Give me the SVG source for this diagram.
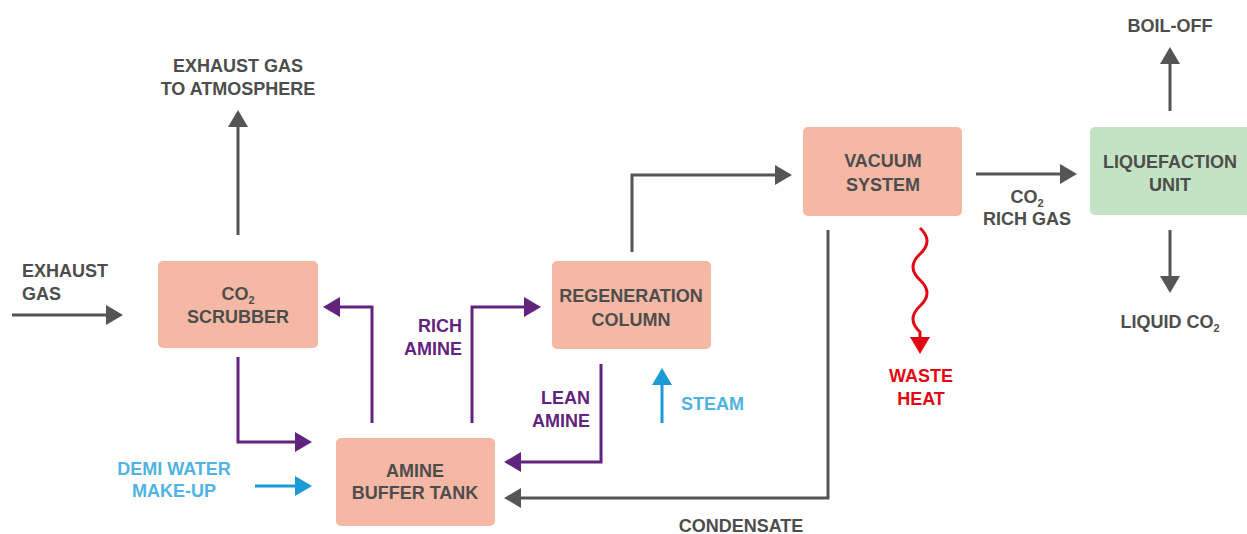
<svg xmlns="http://www.w3.org/2000/svg" width="1247" height="534" viewBox="0 0 1247 534">
<style>
text{font-family:"Liberation Sans",Arial,sans-serif;font-weight:700;font-size:18px;}
.g{fill:#4d4d4d}
.p{fill:#62237f}
.b{fill:#4fb4e4}
.r{fill:#e30613}
.m{text-anchor:middle}
.e{text-anchor:end}
.box{fill:#f5b8a4}
.green{fill:#c4e3c4}
.cg{fill:none;stroke:#555555;stroke-width:3}
.cp{fill:none;stroke:#62237f;stroke-width:3}
.cb{fill:none;stroke:#1b9ad6;stroke-width:3}
.cr{fill:none;stroke:#e30613;stroke-width:3}
.sub{font-size:11px}
</style>
<defs>
<marker id="ag" viewBox="0 0 17 20" refX="0" refY="10" markerWidth="17" markerHeight="20" markerUnits="userSpaceOnUse" orient="auto"><path d="M0,0 L17,10 L0,20 z" fill="#555555"/></marker>
<marker id="ap" viewBox="0 0 17 20" refX="0" refY="10" markerWidth="17" markerHeight="20" markerUnits="userSpaceOnUse" orient="auto"><path d="M0,0 L17,10 L0,20 z" fill="#62237f"/></marker>
<marker id="ab" viewBox="0 0 17 20" refX="0" refY="10" markerWidth="17" markerHeight="20" markerUnits="userSpaceOnUse" orient="auto"><path d="M0,0 L17,10 L0,20 z" fill="#1b9ad6"/></marker>
<marker id="ar" viewBox="0 0 17 20" refX="0" refY="10" markerWidth="17" markerHeight="20" markerUnits="userSpaceOnUse" orient="auto"><path d="M0,0 L17,10 L0,20 z" fill="#e30613"/></marker>
</defs>
<rect width="1247" height="534" fill="#ffffff"/>

<g id="connectors">
<path class="cg" d="M12,315 H106" marker-end="url(#ag)"/>
<path class="cg" d="M238,235 V127" marker-end="url(#ag)"/>
<path class="cg" d="M632,252 V175 H775" marker-end="url(#ag)"/>
<path class="cg" d="M976,174 H1060" marker-end="url(#ag)"/>
<path class="cg" d="M1170,111 V64" marker-end="url(#ag)"/>
<path class="cg" d="M1170,230 V276" marker-end="url(#ag)"/>
<path class="cg" d="M828,230 V498 H521" marker-end="url(#ag)"/>
<path class="cp" d="M238,357 V442 H295" marker-end="url(#ap)"/>
<path class="cp" d="M372,423 V307 H340" marker-end="url(#ap)"/>
<path class="cp" d="M472,423 V307 H524" marker-end="url(#ap)"/>
<path class="cp" d="M601,364 V462 H521" marker-end="url(#ap)"/>
<path class="cb" d="M662,423 V385" marker-end="url(#ab)"/>
<path class="cb" d="M255,486 H295" marker-end="url(#ab)"/>
<path class="cr" d="M920,228 Q934,241 920,254 T920,280 T920,306 T920,332 L920,337" marker-end="url(#ar)"/>
</g>

<g id="scrubber">
<rect class="box" x="158" y="261" width="160" height="87" rx="5"/>
<text class="g m" x="238" y="300">CO<tspan class="sub" dy="4">2</tspan></text>
<text class="g m" x="238" y="323">SCRUBBER</text>
</g>
<g id="buffer-tank">
<rect class="box" x="336" y="438" width="159" height="88" rx="5"/>
<text class="g m" x="415" y="477">AMINE</text>
<text class="g m" x="415" y="499">BUFFER TANK</text>
</g>
<g id="regeneration">
<rect class="box" x="552" y="261" width="159" height="88" rx="5"/>
<text class="g m" x="631" y="302">REGENERATION</text>
<text class="g m" x="631" y="326">COLUMN</text>
</g>
<g id="vacuum">
<rect class="box" x="803" y="127" width="159" height="89" rx="5"/>
<text class="g m" x="883" y="167">VACUUM</text>
<text class="g m" x="883" y="191">SYSTEM</text>
</g>
<g id="liquefaction">
<rect class="green" x="1090" y="127" width="165" height="88" rx="5"/>
<text class="g m" x="1170" y="168">LIQUEFACTION</text>
<text class="g m" x="1170" y="191">UNIT</text>
</g>

<g id="labels">
<text class="g m" x="238" y="72">EXHAUST GAS</text>
<text class="g m" x="238" y="95">TO ATMOSPHERE</text>
<text class="g" x="22" y="277">EXHAUST</text>
<text class="g" x="22" y="300">GAS</text>
<text class="p e" x="462" y="332">RICH</text>
<text class="p e" x="462" y="355">AMINE</text>
<text class="p e" x="590" y="404">LEAN</text>
<text class="p e" x="590" y="427">AMINE</text>
<text class="b" x="681" y="410">STEAM</text>
<text class="b m" x="174" y="475">DEMI WATER</text>
<text class="b m" x="174" y="497">MAKE-UP</text>
<text class="g m" x="741" y="532">CONDENSATE</text>
<text class="r m" x="921" y="382">WASTE</text>
<text class="r m" x="921" y="405">HEAT</text>
<text class="g m" x="1027" y="203">CO<tspan class="sub" dy="4">2</tspan></text>
<text class="g m" x="1027" y="225">RICH GAS</text>
<text class="g m" x="1170" y="32">BOIL-OFF</text>
<text class="g m" x="1170" y="328">LIQUID CO<tspan class="sub" dy="4">2</tspan></text>
</g>
</svg>
